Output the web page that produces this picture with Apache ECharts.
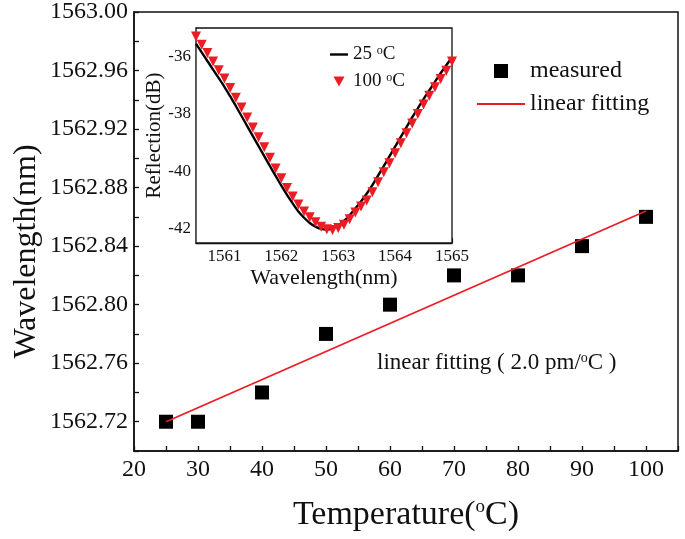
<!DOCTYPE html>
<html>
<head>
  <meta charset="utf-8">
  <title>peak wavelength vs temperature</title>
  <script src="https://cdn.jsdelivr.net/npm/echarts@6/dist/echarts.min.js"></script>
  <style>
    html, body { margin: 0; padding: 0; background: #fff; }
    #main { width: 685px; height: 539px; }
  </style>
</head>
<body>
  <div id="main"></div>
  <script>
    // measured peak wavelength (nm) vs temperature (oC)
    var temps = [25, 30, 40, 50, 60, 70, 80, 90, 100];
    var peakWl = [1562.72, 1562.72, 1562.74, 1562.78, 1562.80, 1562.82, 1562.82, 1562.84, 1562.86];
    // linear fit end points (2.0 pm/oC)
    var fitT = [25, 100];
    var fitWl = [1562.720, 1562.864];
    var yTicks = [1562.70, 1562.72, 1562.74, 1562.76, 1562.78, 1562.80, 1562.82, 1562.84,
      1562.86, 1562.88, 1562.90, 1562.92, 1562.94, 1562.96, 1562.98, 1563.00];
    var yTickLabels = [1562.72, 1562.76, 1562.80, 1562.84, 1562.88, 1562.92, 1562.96, 1563.00];
    var xTickLabels = ['20', '30', '40', '50', '60', '70', '80', '90', '100'];

    // inset: reflection spectra
    var specWl = [1560.5, 1560.6, 1560.7, 1560.8, 1560.9, 1561.0, 1561.1, 1561.2, 1561.3, 1561.4,
      1561.5, 1561.6, 1561.7, 1561.8, 1561.9, 1562.0, 1562.1, 1562.2, 1562.3, 1562.4,
      1562.5, 1562.6, 1562.7, 1562.8, 1562.9, 1563.0, 1563.1, 1563.2, 1563.3, 1563.4,
      1563.5, 1563.6, 1563.7, 1563.8, 1563.9, 1564.0, 1564.1, 1564.2, 1564.3, 1564.4,
      1564.5, 1564.6, 1564.7, 1564.8, 1564.9, 1565.0];
    var refl25 = [-35.55, -35.85, -36.15, -36.45, -36.75, -37.05, -37.38, -37.72, -38.07, -38.42,
      -38.77, -39.12, -39.47, -39.82, -40.16, -40.50, -40.82, -41.12, -41.40, -41.62,
      -41.80, -41.93, -42.01, -42.03, -41.98, -41.88, -41.73, -41.53, -41.30, -41.05,
      -40.78, -40.48, -40.15, -39.82, -39.48, -39.14, -38.80, -38.46, -38.12, -37.80,
      -37.48, -37.18, -36.88, -36.58, -36.30, -36.02];
    var refl100 = [-35.30, -35.58, -35.87, -36.17, -36.47, -36.76, -37.09, -37.43, -37.77, -38.12,
      -38.47, -38.81, -39.16, -39.53, -39.90, -40.24, -40.58, -40.88, -41.16, -41.40,
      -41.60, -41.78, -41.93, -42.02, -42.05, -41.98, -41.86, -41.67, -41.44, -41.23,
      -41.02, -40.73, -40.38, -40.03, -39.72, -39.37, -39.02, -38.67, -38.33, -38.00,
      -37.67, -37.36, -37.07, -36.78, -36.49, -36.17];
    var insetXLabels = ['1561', '1562', '1563', '1564', '1565'];
    var insetYTicks = [-42, -41, -40, -39, -38, -37, -36];
    var insetYLabels = [-42, -40, -38, -36];

    var serif = 'Liberation Serif';
    var ink = '#111';
    var red = '#ec1c24';

    function pick(list) {
      return function (v) {
        var hit = list.filter(function (s) { return Math.abs(parseFloat(s) - v) < 1e-6; });
        return hit.length ? hit[0] : '';
      };
    }
    function pairs(xs, ys) {
      return xs.map(function (x, i) { return [x, ys[i]]; });
    }

    var myChart = echarts.init(document.getElementById('main'));
    var tick = { show: true, inside: true, length: 5, lineStyle: { color: ink, width: 1.3 } };
    var line = { show: true, lineStyle: { color: ink, width: 1.5 } };
    var smallTick = { show: true, inside: true, length: 5, lineStyle: { color: ink, width: 1.1 } };
    var smallLine = { show: true, lineStyle: { color: ink, width: 1.3 } };

    var option = {
      backgroundColor: '#fff',
      animation: false,
      textStyle: { fontFamily: serif, color: ink },
      grid: [
        { left: 134, top: 12, width: 544, height: 439, show: true, borderColor: ink, borderWidth: 1.5,
          containLabel: false, outerBoundsMode: 'none' },
        { left: 196, top: 28, width: 256, height: 215, show: true, borderColor: ink, borderWidth: 1.3,
          backgroundColor: '#fff', z: 5, containLabel: false, outerBoundsMode: 'none' }
      ],
      legend: [{
        data: [
          { name: 'measured', icon: 'path://M0,0H14V14H0Z' },
          { name: 'linear fitting', icon: 'path://M0,0H48V2H0Z' }
        ],
        orient: 'vertical', left: 472, top: 54, itemWidth: 48, itemHeight: 14, itemGap: 9,
        symbolKeepAspect: true, z: 10,
        textStyle: { fontFamily: serif, fontSize: 24, color: ink }
      }, {
        data: [
          { name: '25 °C', icon: 'path://M0,0H18V2.4H0Z' },
          { name: '100 °C', icon: 'path://M0,0H10L5,9Z' }
        ],
        orient: 'vertical', left: 325, top: 40, itemWidth: 18, itemHeight: 10, itemGap: 8,
        symbolKeepAspect: true, z: 10,
        formatter: function (n) {
          return '{a|' + n.split(' ')[0] + ' }{s|o}{a|C}';
        },
        textStyle: {
          fontFamily: serif, color: ink,
          rich: { a: { fontSize: 19, fontFamily: serif, color: ink }, s: { fontSize: 12, fontFamily: serif, color: ink, verticalAlign: 'top' } }
        }
      }],
      xAxis: [{
        gridIndex: 0, type: 'value', min: 20, max: 105, interval: 5,
        name: '{a|Temperature(}{s|o}{a|C)}', nameLocation: 'middle', nameGap: 47, nameMoveOverlap: false,
        nameTextStyle: { rich: { a: { fontSize: 34, fontFamily: serif, color: ink }, s: { fontSize: 19, fontFamily: serif, color: ink, verticalAlign: 'top' } } },
        axisLine: line, axisTick: tick, splitLine: { show: false },
        axisLabel: { interval: 0, fontSize: 24, fontFamily: serif, color: ink, margin: 7, formatter: pick(xTickLabels) }
      }, {
        gridIndex: 1, type: 'value', min: 1560.5, max: 1565, interval: 0.5,
        name: 'Wavelength(nm)', nameLocation: 'middle', nameGap: 24, nameMoveOverlap: false,
        nameTextStyle: { fontSize: 22, fontFamily: serif, color: ink },
        axisLine: smallLine, axisTick: smallTick, splitLine: { show: false },
        axisLabel: { interval: 0, fontSize: 17, fontFamily: serif, color: ink, margin: 5, formatter: pick(insetXLabels) }
      }],
      yAxis: [{
        gridIndex: 0, type: 'value', min: 1562.70, max: 1563.00,
        name: 'Wavelength(nm)', nameLocation: 'middle', nameGap: 91, nameMoveOverlap: false,
        nameTextStyle: { fontSize: 32, fontFamily: serif, color: ink, padding: [0, 40, 0, 0] },
        axisLine: line, splitLine: { show: false },
        axisTick: { show: true, inside: true, length: 5, lineStyle: { color: ink, width: 1.3 }, customValues: yTicks },
        axisLabel: { fontSize: 24, fontFamily: serif, color: ink, margin: 6, customValues: yTickLabels,
          formatter: function (v) { return v.toFixed(2); } }
      }, {
        gridIndex: 1, type: 'value', min: -42.5, max: -35,
        name: 'Reflection(dB)', nameLocation: 'middle', nameGap: 31, nameMoveOverlap: false,
        nameTextStyle: { fontSize: 21, fontFamily: serif, color: ink },
        axisLine: smallLine, splitLine: { show: false },
        axisTick: { show: true, inside: true, length: 5, lineStyle: { color: ink, width: 1.1 }, customValues: insetYTicks },
        axisLabel: { fontSize: 17, fontFamily: serif, color: ink, margin: 5, customValues: insetYLabels,
          formatter: function (v) { return String(v); } }
      }],
      graphic: [{
        type: 'text', left: 377, top: 351, z: 10,
        style: {
          text: '{a|linear fitting ( 2.0 pm/}{s|o}{a|C )}',
          rich: { a: { fontSize: 23, fontFamily: serif, fill: ink }, s: { fontSize: 14, fontFamily: serif, fill: ink, verticalAlign: 'top' } }
        }
      }],
      series: [{
        name: 'measured', type: 'scatter', xAxisIndex: 0, yAxisIndex: 0,
        symbol: 'rect', symbolSize: 14, itemStyle: { color: '#000', opacity: 1 },
        data: pairs(temps, peakWl), z: 3
      }, {
        name: 'linear fitting', type: 'line', xAxisIndex: 0, yAxisIndex: 0,
        symbol: 'none', lineStyle: { color: red, width: 1.8 }, itemStyle: { color: red },
        data: pairs(fitT, fitWl), z: 4
      }, {
        name: '25 °C', type: 'line', xAxisIndex: 1, yAxisIndex: 1,
        symbol: 'none', smooth: 0.3, lineStyle: { color: '#000', width: 2.4 }, itemStyle: { color: '#000' },
        data: pairs(specWl, refl25), z: 6
      }, {
        name: '100 °C', type: 'scatter', xAxisIndex: 1, yAxisIndex: 1,
        symbol: 'triangle', symbolRotate: 180, symbolSize: 10, itemStyle: { color: red, opacity: 1 },
        data: pairs(specWl, refl100), z: 7
      }]
    };
    myChart.setOption(option);
  </script>
</body>
</html>
